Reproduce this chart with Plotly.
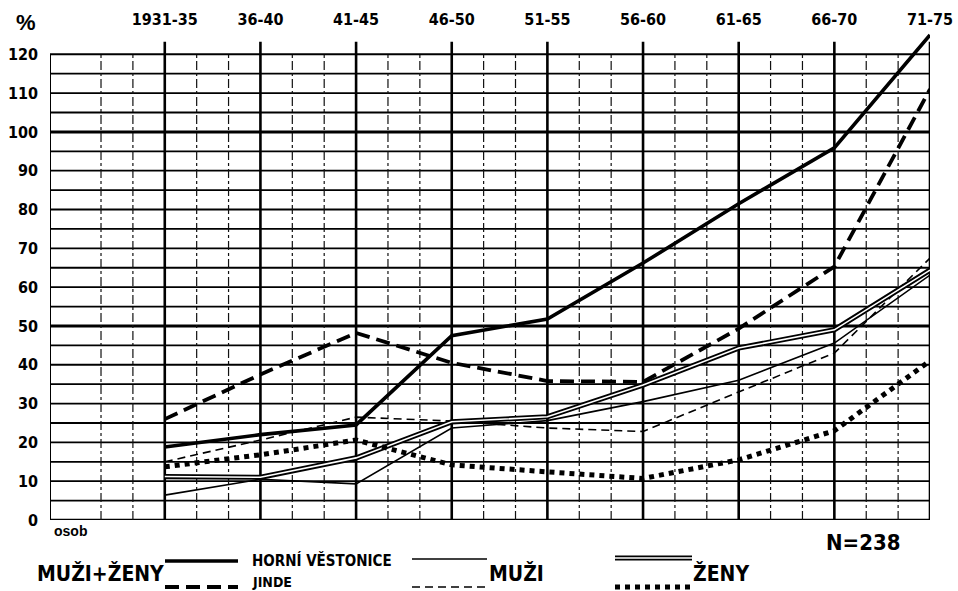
import plotly.graph_objects as go

# ---------------- data ----------------
categories = ["1931-35", "36-40", "41-45", "46-50", "51-55", "56-60", "61-65", "66-70", "71-75"]
muzi_zeny_horni = [18.8, 22.0, 24.5, 47.5, 51.8, 66.2, 81.5, 95.9, 125.0]
muzi_zeny_jinde = [26.0, 37.5, 48.2, 40.5, 35.8, 35.6, 49.3, 65.3, 111.0]
muzi_horni = [6.4, 10.5, 9.3, 23.7, 25.6, 30.5, 36.0, 45.6, 63.1]
muzi_jinde = [15.0, 20.6, 26.5, 25.5, 23.7, 22.8, 33.0, 43.0, 67.5]
zeny_horni = [11.2, 11.0, 16.0, 25.3, 26.6, 34.8, 44.3, 49.0, 64.4]
zeny_jinde = [13.7, 16.8, 20.6, 14.2, 12.4, 10.7, 15.5, 23.0, 41.0]
y_ticks = list(range(0, 121, 10))

xpos = list(range(len(categories)))

NARROW = "DejaVu Sans Condensed, Liberation Sans Narrow, Arial Narrow, sans-serif"
WIDE = "Liberation Sans, Arial, DejaVu Sans, sans-serif"

fig = go.Figure()

def add_line(y, width, dash="solid", color="black", name=""):
    fig.add_trace(go.Scatter(x=xpos, y=y, mode="lines", name=name,
                             line=dict(color=color, width=width, dash=dash),
                             hoverinfo="skip", showlegend=False))

# thin lines first
add_line(muzi_horni, 1.6, "solid", name="MUŽI Horní Věstonice")
add_line(muzi_jinde, 1.6, "8px,5px", name="MUŽI jinde")
# double line (ženy HV)
add_line(zeny_horni, 5.2, "solid", name="ŽENY Horní Věstonice")
add_line(zeny_horni, 1.6, "solid", color="white", name="ŽENY Horní Věstonice (inner)")
# dotted (ženy jinde)
add_line(zeny_jinde, 5.0, "5px,5px", name="ŽENY jinde")
# thick lines
add_line(muzi_zeny_jinde, 3.8, "14px,7px", name="MUŽI+ŽENY jinde")
add_line(muzi_zeny_horni, 3.6, "solid", name="MUŽI+ŽENY Horní Věstonice")

# ---------------- grid (drawn as shapes, beneath traces) ----------------
X0, X1 = -1.2, 8.0
shapes = []
for v in range(5, 120, 5):
    w = 3.0 if v in (50, 100) else 1.8
    shapes.append(dict(type="line", xref="x", yref="y", x0=X0, x1=X1, y0=v, y1=v,
                       line=dict(color="black", width=w), layer="below"))
shapes.append(dict(type="line", xref="x", yref="y", x0=X0, x1=X1, y0=0, y1=0,
                   line=dict(color="black", width=2.6), layer="below"))
shapes.append(dict(type="line", xref="x", yref="y", x0=X0, x1=X1, y0=120, y1=120,
                   line=dict(color="black", width=2.0), layer="below"))
for k in range(-2, 24):
    if k % 3 == 0:
        continue
    xv = k / 3.0
    shapes.append(dict(type="line", xref="x", yref="y", x0=xv, x1=xv, y0=0, y1=120,
                       line=dict(color="#111", width=1.2, dash="dashdot"), layer="below"))
for i in range(len(categories)):
    shapes.append(dict(type="line", xref="x", yref="y", x0=i, x1=i, y0=0, y1=123.2,
                       line=dict(color="black", width=2.6), layer="below"))
shapes.append(dict(type="line", xref="x", yref="y", x0=X0, x1=X0, y0=0, y1=120,
                   line=dict(color="black", width=2.0), layer="below"))

# ---------------- legend (manual, below the chart) ----------------
L, R, T, B = 50, 930, 31, 520
def px(xp):
    return (xp - L) / (R - L)
def py(yp):
    return (B - yp) / (B - T)

def leg_line(x0, x1, y, width, dash="solid", color="black"):
    shapes.append(dict(type="line", xref="paper", yref="paper",
                       x0=px(x0), x1=px(x1), y0=py(y), y1=py(y),
                       line=dict(color=color, width=width, dash=dash), layer="above"))

leg_line(165, 238, 561, 3.6)
leg_line(165, 238, 587, 3.8, "14px,7px")
leg_line(412, 487, 559, 1.6)
leg_line(412, 487, 587, 1.6, "8px,5px")
leg_line(615, 692, 558, 5.2)
leg_line(615, 692, 558, 1.6, color="white")
leg_line(615, 692, 587, 5.0, "5px,5px")

annotations = []
def text(t, x, y, size, family=NARROW, xanchor="center", yanchor="middle"):
    annotations.append(dict(text="<b>%s</b>" % t, x=px(x), y=py(y), xref="paper", yref="paper",
                            showarrow=False, xanchor=xanchor, yanchor=yanchor,
                            font=dict(family=family, size=size, color="black")))

text("MUŽI+ŽENY", 100, 573, 21)
text("HORNÍ VĚSTONICE", 250, 560, 15, xanchor="left")
text("JINDE", 250, 582, 14, xanchor="left")
text("MUŽI", 516, 573, 21)
text("ŽENY", 721, 573, 21)
text("N=238", 863, 542, 22)
text("osob", 52, 531, 14, family=WIDE, xanchor="left")
text("%", 26, 22, 22, family=WIDE)

fig.update_layout(
    template="none",
    width=958, height=591,
    margin=dict(l=L, r=958 - R, t=T, b=591 - B, autoexpand=False),
    paper_bgcolor="white", plot_bgcolor="white",
    shapes=shapes, annotations=annotations,
    showlegend=False,
    xaxis=dict(range=[X0, X1], side="top", tickmode="array", tickvals=xpos,
               ticktext=["<b>%s</b>" % c for c in categories], automargin=False,
               showgrid=False, zeroline=False, showline=False, ticks="",
               tickfont=dict(family=NARROW, size=16, color="black"), ticklabelstandoff=2),
    yaxis=dict(range=[0, 126], tickmode="array", tickvals=y_ticks,
               ticktext=["<b>%d</b>" % v for v in y_ticks], automargin=False,
               showgrid=False, zeroline=False, showline=False, ticks="",
               tickfont=dict(family=NARROW, size=16, color="black"), ticklabelstandoff=11),
)

fig.write_html("out.html",
               config={"displayModeBar": False, "staticPlot": True},
               post_script="document.body.style.margin='0';document.body.style.padding='0';"
                           "document.body.style.overflow='hidden';")
